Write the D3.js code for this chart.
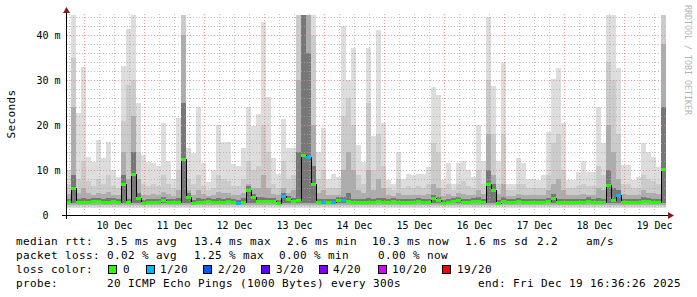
<!DOCTYPE html>
<html>
<head>
<meta charset="utf-8">
<script src="https://cdn.jsdelivr.net/npm/d3@7"></script>
<style>
  html, body { margin: 0; padding: 0; background: #ffffff; }
  svg text { font-family: "DejaVu Sans Mono", monospace; fill: #000; }
</style>
</head>
<body>
<div id="chart"></div>
<script>
"use strict";

// graph window, one value per 2 hour bin
var startTime = "2025-12-09T16:36:26Z";
var endTime = "2025-12-19T16:36:26Z";
var binHours = 2;

// median rtt (ms) per bin
var medianMs = [
    3.0, 6.0, 2.8, 3.0, 3.0, 3.2, 3.1, 3.0, 3.0, 3.1,
    2.9, 6.9, 2.8, 9.1, 3.8, 2.7, 2.9, 3.0, 3.0, 3.4,
    3.0, 2.9, 3.0, 12.4, 4.0, 2.7, 3.0, 3.0, 3.1, 2.9,
    3.0, 3.0, 3.1, 3.0, 2.7, 3.0, 5.5, 3.9, 3.2, 3.1,
    3.1, 3.1, 2.6, 4.2, 3.6, 3.2, 3.4, 13.3, 12.9, 7.0,
    3.0, 2.8, 2.9, 3.0, 3.4, 3.3, 3.1, 2.9, 3.0, 3.0,
    3.0, 3.0, 3.1, 3.0, 3.0, 3.1, 3.0, 3.0, 3.0, 3.0,
    3.1, 3.0, 3.0, 3.8, 3.3, 2.7, 2.9, 3.1, 3.4, 2.9,
    3.0, 3.1, 3.2, 2.9, 6.9, 5.5, 2.7, 3.2, 3.0, 3.0,
    3.1, 3.0, 3.0, 3.0, 3.0, 3.0, 3.1, 3.8, 2.8, 3.0,
    3.0, 3.0, 3.0, 3.0, 3.2, 3.0, 3.0, 3.0, 6.7, 3.3,
    4.4, 3.0, 3.0, 3.0, 3.0, 3.2, 3.1, 3.0, 3.0, 10.3
];

// lost pings (of 20) per bin
var lossCount = [
    0, 0, 0, 0, 0, 0, 0, 0, 0, 0,
    0, 0, 0, 0, 0, 0, 0, 0, 0, 0,
    0, 0, 0, 0, 0, 0, 0, 0, 0, 0,
    0, 0, 0, 0, 1, 0, 0, 0, 0, 0,
    0, 0, 0, 1, 0, 0, 0, 0, 1, 0,
    0, 1, 0, 1, 0, 1, 0, 0, 0, 0,
    0, 0, 0, 0, 0, 0, 0, 0, 0, 0,
    0, 0, 0, 0, 0, 0, 0, 0, 0, 0,
    0, 0, 0, 0, 0, 0, 0, 0, 0, 0,
    0, 0, 0, 0, 0, 0, 0, 0, 0, 0,
    0, 0, 0, 0, 0, 0, 0, 0, 0, 0,
    1, 0, 0, 0, 0, 0, 0, 0, 0, 0
];

// smoke: slowest ping per bin
var maxMs = [
    10, 44.4, 22.6, 33, 13, 11.7, 16.7, 12.6, 16.3, 10,
    8.5, 33.1, 41.3, 44.4, 25, 13.3, 11.7, 11.6, 10.8, 20.4,
    12, 8, 21.5, 44.4, 14.8, 13.7, 24.1, 11.5, 7.4, 10,
    20, 16.3, 16.3, 11.3, 10.9, 14.8, 23.9, 19.7, 22.4, 42.9,
    26.2, 12.6, 9.2, 21.3, 14.8, 14.8, 44.4, 44.4, 44.4, 44.4,
    14.1, 19.3, 8, 9.2, 8.5, 42, 30, 37.1, 15.6, 11.7,
    37.1, 17.6, 41.1, 20.4, 7.8, 7, 14.1, 8.1, 9.2, 8.8,
    9.2, 9.2, 10.7, 28.4, 26.7, 7.8, 11.5, 7, 11.5, 11.9,
    10, 8.5, 20, 12.1, 43.9, 28.7, 12, 33.8, 7, 7,
    12.6, 11.5, 8.1, 8.1, 7.8, 8.8, 18.5, 30.2, 32.6, 20.4,
    7.8, 7.8, 9.6, 11.9, 9.6, 9.6, 24.1, 16, 44.4, 44.4,
    32.6, 11.1, 11.1, 7.8, 8.5, 16.1, 14.1, 13, 10.7, 44.4
];

// smoke: upper ping ranks (outer -> inner)
var hiMs = [
    7, 35, 8, 12, 7.5, 6.5, 8, 7, 9, 6.5,
    6, 21, 29, 30, 14, 7, 6.5, 7, 6.5, 9,
    7, 6, 10, 44.4, 8, 7, 9, 6.5, 5.5, 6,
    9, 8, 7.5, 6.5, 6.5, 8, 12, 10, 11, 20,
    14, 7, 6, 12, 8, 9, 44.4, 44.4, 44.4, 40,
    8, 10, 6, 6, 6, 22, 26, 20, 9, 7,
    25, 10, 18, 11, 6, 5.5, 8, 6, 6.5, 6,
    6.5, 6, 7, 16, 14, 6, 7, 5.5, 7, 7.5,
    6.5, 6, 10, 7, 30, 18, 7, 18, 5.5, 5.5,
    7, 7, 6, 6, 6, 6, 9, 16, 18, 10,
    6, 6, 6.5, 7, 6.5, 6.5, 11, 9, 34, 30,
    18, 7, 7, 6, 6, 9, 8, 7.5, 7, 44.4
];

var midMs = [
    4.6, 24, 4.8, 6, 4.8, 4.5, 5, 4.6, 5.2, 4.5,
    4.4, 14, 8, 22, 8, 4.5, 4.5, 4.7, 4.5, 5.2,
    4.6, 4.3, 5.5, 40, 5.5, 4.5, 5.5, 4.6, 4.2, 4.4,
    5.2, 5, 4.8, 4.5, 4.4, 5, 7, 6, 6, 9,
    6, 4.6, 4.4, 6, 5, 5.5, 30, 44.4, 44.4, 20,
    5, 5.5, 4.4, 4.4, 4.5, 10, 14, 10, 5.5, 4.8,
    10, 5.5, 8, 6, 4.4, 4.3, 5, 4.4, 4.5, 4.4,
    4.5, 4.4, 4.6, 7, 6, 4.3, 4.6, 4.3, 4.8, 4.6,
    4.5, 4.4, 5.5, 4.6, 18, 9, 4.6, 7, 4.3, 4.3,
    4.6, 4.5, 4.4, 4.4, 4.4, 4.4, 5.5, 7, 8, 5.5,
    4.4, 4.4, 4.5, 4.6, 4.5, 4.5, 6, 5.5, 20, 14,
    8, 4.6, 4.5, 4.4, 4.4, 5.5, 5, 4.8, 4.6, 38
];

var innerMs = [
    3.6, 9, 3.5, 3.7, 3.6, 3.8, 3.7, 3.6, 3.7, 3.7,
    3.5, 9, 3.6, 14, 5, 3.4, 3.5, 3.6, 3.6, 4,
    3.6, 3.5, 3.7, 25, 5, 3.4, 3.8, 3.6, 3.7, 3.5,
    3.7, 3.6, 3.7, 3.6, 3.4, 3.7, 6.5, 4.6, 4.1, 4,
    3.8, 3.7, 3.3, 5, 4.2, 3.8, 14, 44.4, 36, 11,
    3.6, 3.5, 3.5, 3.6, 4, 4, 5, 3.6, 3.6, 3.6,
    3.8, 3.6, 3.8, 3.7, 3.6, 3.7, 3.6, 3.6, 3.6, 3.6,
    3.7, 3.6, 3.6, 4.5, 4, 3.4, 3.5, 3.7, 4.1, 3.5,
    3.6, 3.7, 3.9, 3.5, 10, 7, 3.4, 3.9, 3.6, 3.6,
    3.7, 3.6, 3.6, 3.6, 3.6, 3.6, 3.8, 4.6, 3.6, 3.6,
    3.6, 3.6, 3.6, 3.6, 3.9, 3.6, 3.7, 3.6, 10, 6,
    5.5, 3.6, 3.6, 3.6, 3.6, 3.9, 3.8, 3.6, 3.6, 24
];

// lower edge of each smoke layer (ms)
var smokeFloorMs = [1.6, 2.0, 2.3, 2.6];

var yTickValues = [0, 10, 20, 30, 40];
var yTickUnits = ["", "m", "m", "m", "m"];
var dayLabels = ["10 Dec", "11 Dec", "12 Dec", "13 Dec", "14 Dec", "15 Dec", "16 Dec", "17 Dec", "18 Dec", "19 Dec"];

var lossSteps = [0, 1, 2, 3, 4, 10, 19];
var lossNames = ["0", "1/20", "2/20", "3/20", "4/20", "10/20", "19/20"];
var lossColors = ["#26ff00", "#00b8ff", "#0059ff", "#5e00ff", "#7e00ff", "#dd00ff", "#ff0000"];

var rttLegend = ["3.5 ms avg", "13.4 ms max", "2.6 ms min", "10.3 ms now", "1.6 ms sd", "2.2", "am/s"];
var lossLegend = ["0.02 % avg", "1.25 % max", "0.00 % min", "0.00 % now"];
var probeText = "20 ICMP Echo Pings (1000 Bytes) every 300s";
var endText = "end: Fri Dec 19 16:36:26 2025";

// layout
var width = 697, height = 297;
var plotLeft = 66, plotRight = 666, plotTop = 14, plotBottom = 215;
var rttCols = [107, 194, 287, 372, 465, 537, 586];
var lossCols = [107, 194, 279, 378];
var swatchX = [108, 146, 203, 261, 319, 378, 442];
var labelX = [123, 160, 218, 276, 333, 392, 457];
var legendY = [245, 259, 273, 287];
var smokeColors = ["#dddddd", "#cbcbcb", "#adadad", "#777777"];

var t0 = new Date(startTime), t1 = new Date(endTime);

var x = d3.scaleUtc().domain([t0, t1]).range([plotLeft, plotRight]);
var y = d3.scaleLinear().domain([0, 201 / 4.5]).range([plotBottom, plotTop]);

var bins = medianMs.map(function (m, i) {
    return {
        t: d3.utcHour.offset(t0, binHours * i),
        t2: d3.utcHour.offset(t0, binHours * (i + 1)),
        median: m,
        loss: lossCount[i],
        tops: [maxMs[i], hiMs[i], midMs[i], innerMs[i]]
    };
});

function lossColor(n) {
    var c = lossColors[0];
    lossSteps.forEach(function (s, k) { if (n >= s) c = lossColors[k]; });
    return c;
}

var svg = d3.select("#chart").append("svg")
    .attr("xmlns", "http://www.w3.org/2000/svg")
    .attr("width", width)
    .attr("height", height);

svg.append("rect").attr("width", width).attr("height", height).attr("fill", "#ffffff");

//smoke, outer layer first, darker ones on top
smokeColors.forEach(function (col, k) {
    svg.append("g")
        .attr("class", "smoke" + k)
        .attr("shape-rendering", "crispEdges")
        .selectAll("rect")
        .data(bins)
        .enter()
        .append("rect")
        .attr("x", function (d) { return x(d.t); })
        .attr("width", function (d) { return x(d.t2) - x(d.t); })
        .attr("y", function (d) { return y(d.tops[k]); })
        .attr("height", function (d) { return Math.max(0, y(smokeFloorMs[k]) - y(d.tops[k])); })
        .attr("fill", col);
});

//grid, dotted
var grid = svg.append("g").attr("class", "grid").attr("shape-rendering", "crispEdges");
d3.range(2, 45, 2).forEach(function (v) {
    var yy = Math.round(y(v)) + 0.5;
    var major = v % 10 === 0;
    grid.append("line")
        .attr("x1", plotLeft + 1).attr("x2", plotRight)
        .attr("y1", yy).attr("y2", yy)
        .attr("stroke", major ? "#f08080" : "#a8a8a8")
        .attr("stroke-opacity", major ? 0.8 : 0.7)
        .attr("stroke-dasharray", "1,2");
});
d3.utcHour.every(6).range(t0, t1).forEach(function (t) {
    var xx = Math.floor(x(t)) + 0.5;
    var major = t.getUTCHours() === 0;
    grid.append("line")
        .attr("x1", xx).attr("x2", xx)
        .attr("y1", plotTop).attr("y2", plotBottom)
        .attr("stroke", major ? "#f08080" : "#a8a8a8")
        .attr("stroke-opacity", major ? 0.8 : 0.7)
        .attr("stroke-dasharray", "1,2");
});

//median: thin black step line with loss coloured bar on it
var medLine = d3.line()
    .x(function (d) { return x(d[0]); })
    .y(function (d) { return Math.round(y(d[1])) + 0.5; })
    .curve(d3.curveStepAfter);
var medPts = bins.map(function (d) { return [d.t, d.median]; });
medPts.push([t1, medianMs[medianMs.length - 1]]);
svg.append("path")
    .attr("d", medLine(medPts))
    .attr("fill", "none")
    .attr("stroke", "#000")
    .attr("stroke-width", 1)
    .attr("shape-rendering", "crispEdges");

svg.append("g")
    .attr("shape-rendering", "crispEdges")
    .selectAll("rect")
    .data(bins)
    .enter()
    .append("rect")
    .attr("x", function (d) { return x(d.t); })
    .attr("width", function (d) { return x(d.t2) - x(d.t); })
    .attr("y", function (d) { return Math.round(y(d.median)) - 1; })
    .attr("height", 3)
    .attr("fill", function (d) { return lossColor(d.loss); });

//axes
var axisG = svg.append("g").attr("shape-rendering", "crispEdges");
axisG.append("line").attr("x1", plotLeft - 4).attr("x2", plotRight + 3)
    .attr("y1", plotBottom + 0.5).attr("y2", plotBottom + 0.5).attr("stroke", "#000");
axisG.append("line").attr("x1", plotLeft + 0.5).attr("x2", plotLeft + 0.5)
    .attr("y1", plotBottom + 4).attr("y2", plotTop - 3).attr("stroke", "#000");
svg.append("path").attr("d", "M668,212L674,215.5L668,219Z").attr("fill", "#8b1a1a");
svg.append("path").attr("d", "M63,13L66.5,7L70,13Z").attr("fill", "#8b1a1a");

//y tick labels
yTickValues.forEach(function (v, i) {
    var yy = y(v) + 3.5;
    svg.append("text").attr("x", 48.5).attr("y", yy)
        .attr("text-anchor", "end").attr("font-size", "10px")
        .text(v);
    if (yTickUnits[i]) {
        svg.append("text").attr("x", 54.5).attr("y", yy)
            .attr("font-size", "10px").text(yTickUnits[i]);
    }
});

//x tick labels, centred on noon
d3.utcDay.range(d3.utcDay.ceil(t0), t1).forEach(function (d, i) {
    svg.append("text")
        .attr("x", x(d3.utcHour.offset(d, 12)))
        .attr("y", 228.5)
        .attr("text-anchor", "middle")
        .attr("font-size", "10px")
        .text(dayLabels[i]);
});

svg.append("text")
    .attr("transform", "translate(15,114) rotate(-90)")
    .attr("text-anchor", "middle")
    .attr("font-size", "11px")
    .attr("letter-spacing", "0.38px")
    .text("Seconds");

svg.append("text")
    .attr("transform", "translate(685,5) rotate(90)")
    .attr("font-size", "8.3px")
    .style("fill", "#b4b4b4")
    .text("RRDTOOL / TOBI OETIKER");

//legend
var leg = svg.append("g").attr("font-size", "11px").attr("letter-spacing", "0.38px");
function legText(str, xx, yy) {
    leg.append("text").attr("x", xx).attr("y", yy).text(str);
}
legText("median rtt:", 16, legendY[0]);
rttLegend.forEach(function (s, i) { legText(s, rttCols[i], legendY[0]); });
legText("packet loss:", 16, legendY[1]);
lossLegend.forEach(function (s, i) { legText(s, lossCols[i], legendY[1]); });
legText("loss color:", 16, legendY[2]);
lossNames.forEach(function (s, i) {
    leg.append("rect")
        .attr("x", swatchX[i] + 0.5).attr("y", legendY[2] - 7.5)
        .attr("width", 8).attr("height", 8)
        .attr("fill", lossColors[i])
        .attr("stroke", "#000")
        .attr("shape-rendering", "crispEdges");
    legText(s, labelX[i], legendY[2]);
});
legText("probe:", 16, legendY[3]);
legText(probeText, 107, legendY[3]);
legText(endText, 478, legendY[3]);
</script>
</body>
</html>
